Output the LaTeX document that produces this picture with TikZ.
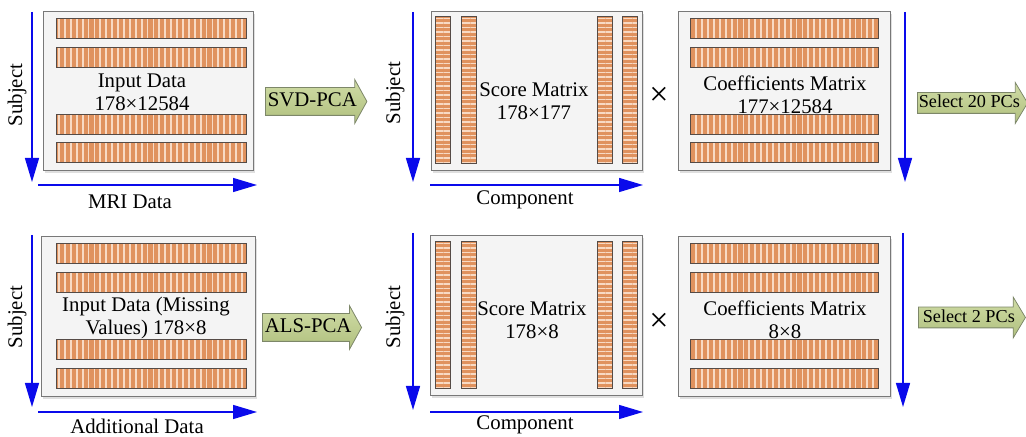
\documentclass[tikz,border=0pt]{standalone}
\usepackage{fontspec}
\setmainfont{Liberation Serif}
\usetikzlibrary{arrows.meta,shapes.arrows,shadows,patterns.meta}

\definecolor{barOrange}{RGB}{224,146,94}
\definecolor{barStripe}{RGB}{248,218,196}
\definecolor{barEdge}{RGB}{85,75,70}
\definecolor{panelFill}{RGB}{244,244,244}
\definecolor{panelEdge}{RGB}{120,120,120}
\definecolor{axisBlue}{RGB}{10,10,235}
\definecolor{stepTop}{RGB}{208,220,166}
\definecolor{stepBot}{RGB}{176,192,126}
\definecolor{stepEdge}{RGB}{125,135,105}

\tikzset{
  panel/.style={rectangle, draw=panelEdge, fill=panelFill, line width=0.5pt, inner sep=0pt,
    drop shadow={opacity=0.25, shadow xshift=1.2pt, shadow yshift=-1.2pt}},
  hbar/.style={rectangle, draw=barEdge, line width=0.5pt, inner sep=0pt,
    preaction={fill=barOrange}, pattern={Lines[angle=90,distance=2.95pt,line width=0.9pt]},
    pattern color=barStripe, minimum width=95pt, minimum height=10pt},
  vbar/.style={rectangle, draw=barEdge, line width=0.5pt, inner sep=0pt,
    preaction={fill=barOrange}, pattern={Lines[angle=0,distance=2.25pt,line width=0.7pt]},
    pattern color=barStripe, minimum width=7.5pt, minimum height=73.5pt},
  axis/.style={axisBlue, line width=0.7pt, -{Triangle[length=12pt,width=7pt]}},
  lab/.style={font=\fontsize{10.4}{11.5}\selectfont, inner sep=0pt, align=center},
  timesSign/.style={lab, font=\fontsize{17}{17}\selectfont},
  pcaStep/.style={single arrow, draw=stepEdge, line width=0.4pt, top color=stepTop, bottom color=stepBot,
    single arrow head extend=4pt, single arrow tip angle=122, inner xsep=1pt, inner ysep=1.9pt,
    text height=7.5pt, text depth=2.2pt, font=\fontsize{10.4}{11.5}\selectfont, anchor=tail},
  pcSelect/.style={pcaStep, single arrow head extend=5pt, single arrow tip angle=118,
    inner xsep=0.5pt, inner ysep=0.75pt, text height=6.6pt, text depth=1.9pt,
    font=\fontsize{9.1}{10}\selectfont}
}

\begin{document}
\begin{tikzpicture}[x=0.5pt,y=-0.5pt]
  \useasboundingbox (0,0) rectangle (1026,437);

  % MRI row

  \node[panel, minimum width=105pt, minimum height=79.5pt]   (inMri)     at (148,91.5)  {} ; %
  \node[hbar]   (inMriBarA)   at (151,29)    {} ; %
  \node[hbar]   (inMriBarB)   at (151,57.5)  {} ; %
  \node[hbar]   (inMriBarC)   at (151,124.5) {} ; %
  \node[hbar]   (inMriBarD)   at (151,153)   {} ; %
  \node[lab]    (inMriText)   at (142,92)    {Input Data\\178×12584} ; %

  \node[panel, minimum width=105.5pt, minimum height=79.5pt] (scoreMri)  at (536.5,91.5) {} ; %
  \node[vbar]   (scoreMriBarA) at (442.5,90.5) {} ; %
  \node[vbar]   (scoreMriBarB) at (468.5,90.5) {} ; %
  \node[vbar]   (scoreMriBarC) at (604.5,90.5) {} ; %
  \node[vbar]   (scoreMriBarD) at (629.5,90.5) {} ; %
  \node[lab]    (scoreMriText) at (534,101)   {Score Matrix\\178×177} ; %
  \node[timesSign] (timesMri)  at (659,96)    {×} ; %

  \node[panel, minimum width=106pt, minimum height=79.5pt]   (coefMri)   at (784,91.5)  {} ; %
  \node[hbar, minimum width=94pt] (coefMriBarA) at (784,29)    {} ; %
  \node[hbar, minimum width=94pt] (coefMriBarB) at (784,57.5)  {} ; %
  \node[hbar, minimum width=94pt] (coefMriBarC) at (784,124.5) {} ; %
  \node[hbar, minimum width=94pt] (coefMriBarD) at (784,153)   {} ; %
  \node[lab]    (coefMriText)  at (785,95)    {Coefficients Matrix\\177×12584} ; %

  \node[pcaStep]  (svdPca)    at (265,101.5) {SVD-PCA} ; %
  \node[pcSelect] (selMri)    at (917,103)   {Select 20 PCs} ; %

  \coordinate (subjMriS)  at (32,12);   \coordinate (subjMriE)  at (32,182);
  \coordinate (dataMriS)  at (38,185);  \coordinate (dataMriE)  at (257,185);
  \coordinate (subjScS)   at (413,12);  \coordinate (subjScE)   at (413,182);
  \coordinate (compScS)   at (430,185); \coordinate (compScE)   at (643,185);
  \coordinate (subjCoS)   at (905,12);  \coordinate (subjCoE)   at (905,182);

  \node[lab, rotate=90] (subjMri)  at (17,95)   {Subject} ; %
  \node[lab, rotate=90] (subjSc)   at (395,93)  {Subject} ; %
  \node[lab]            (dataMri)  at (130,202) {MRI Data} ; %
  \node[lab]            (compMri)  at (525,200) {Component} ; %

  \draw[axis] (subjMriS) -- (subjMriE);
  \draw[axis] (dataMriS) -- (dataMriE);
  \draw[axis] (subjScS) -- (subjScE);
  \draw[axis] (compScS) -- (compScE);
  \draw[axis] (subjCoS) -- (subjCoE);

  % Additional data row

  \node[panel, minimum width=107pt, minimum height=80pt]     (inAdd)     at (148,316.5) {} ; %
  \node[hbar]   (inAddBarA)   at (151,254)   {} ; %
  \node[hbar]   (inAddBarB)   at (151,282.5) {} ; %
  \node[hbar]   (inAddBarC)   at (151,350)   {} ; %
  \node[hbar]   (inAddBarD)   at (151,378.5) {} ; %
  \node[lab]    (inAddText)   at (146,318)   {Input Data (Missing\\Values) 178×8} ; %

  \node[panel, minimum width=106pt, minimum height=80pt]     (scoreAdd)  at (536,316)   {} ; %
  \node[vbar]   (scoreAddBarA) at (442.5,315.5) {} ; %
  \node[vbar]   (scoreAddBarB) at (468.5,315.5) {} ; %
  \node[vbar]   (scoreAddBarC) at (604.5,315.5) {} ; %
  \node[vbar]   (scoreAddBarD) at (629.5,315.5) {} ; %
  \node[lab]    (scoreAddText) at (532,320)   {Score Matrix\\178×8} ; %
  \node[timesSign] (timesAdd)  at (659,322)   {×} ; %

  \node[panel, minimum width=106pt, minimum height=80pt]     (coefAdd)   at (784,316.5) {} ; %
  \node[hbar, minimum width=94pt] (coefAddBarA) at (784,254)   {} ; %
  \node[hbar, minimum width=94pt] (coefAddBarB) at (784,282.5) {} ; %
  \node[hbar, minimum width=94pt] (coefAddBarC) at (784,350)   {} ; %
  \node[hbar, minimum width=94pt] (coefAddBarD) at (784,378.5) {} ; %
  \node[lab]    (coefAddText)  at (785,320)   {Coefficients Matrix\\8×8} ; %

  \node[pcaStep]  (alsPca)    at (262,327.5) {ALS-PCA} ; %
  \node[pcSelect, inner xsep=2pt] (selAdd) at (918,317.5) {Select 2 PCs} ; %

  \coordinate (subjAddS)  at (32,235);  \coordinate (subjAddE)  at (32,407);
  \coordinate (dataAddS)  at (38,412);  \coordinate (dataAddE)  at (257,412);
  \coordinate (subjScBS)  at (413,233); \coordinate (subjScBE)  at (413,410);
  \coordinate (compScBS)  at (430,412); \coordinate (compScBE)  at (643,412);
  \coordinate (subjCoBS)  at (903,233); \coordinate (subjCoBE)  at (903,407);

  \node[lab, rotate=90] (subjAdd)  at (17,317)  {Subject} ; %
  \node[lab, rotate=90] (subjScB)  at (395,317) {Subject} ; %
  \node[lab]            (dataAdd)  at (137,426) {Additional Data} ; %
  \node[lab]            (compAdd)  at (525,425) {Component} ; %

  \draw[axis] (subjAddS) -- (subjAddE);
  \draw[axis] (dataAddS) -- (dataAddE);
  \draw[axis] (subjScBS) -- (subjScBE);
  \draw[axis] (compScBS) -- (compScBE);
  \draw[axis] (subjCoBS) -- (subjCoBE);

\end{tikzpicture}
\end{document}
